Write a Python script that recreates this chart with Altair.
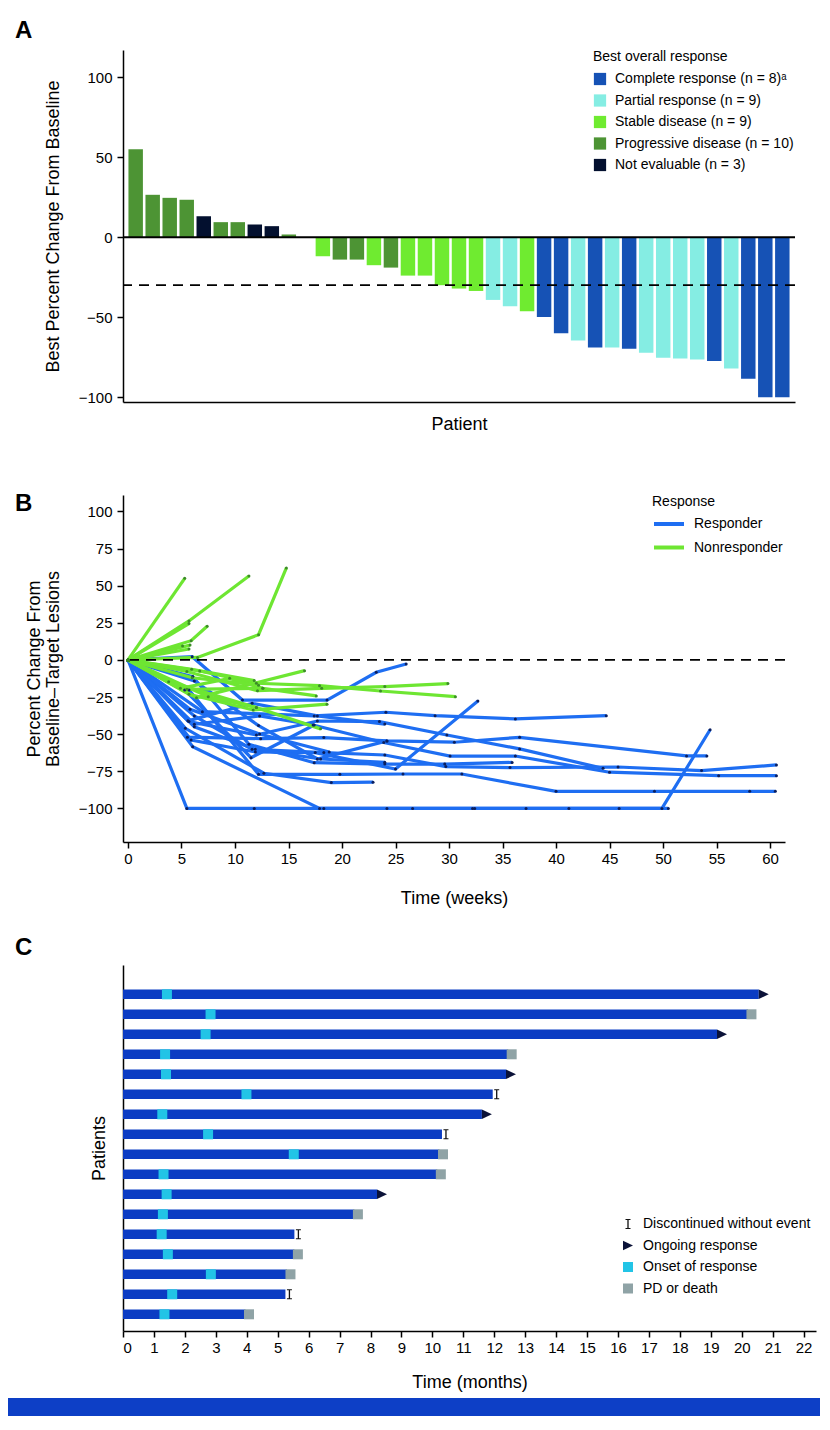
import altair as alt
import pandas as pd

FONT = "Liberation Sans"

# ---------------- Panel A: waterfall ----------------
A_VALUES = [54.9, 26.5, 24.6, 23.4, 13.1, 9.4, 9.4, 7.9, 6.9, 1.7, 0.0, -11.9, -14.0, -14.0,
            -17.5, -19.0, -24.0, -24.0, -30.0, -32.1, -33.6, -39.2, -43.2, -46.3, -49.9, -60.1,
            -64.5, -68.9, -68.9, -69.7, -72.2, -75.3, -75.8, -76.4, -77.4, -82.0, -88.5, -100.0, -100.0]
A_CODES = ["PD", "PD", "PD", "PD", "NE", "PD", "PD", "NE", "NE", "PD", "SD", "SD", "PD", "PD",
           "SD", "PD", "SD", "SD", "SD", "SD", "SD", "PR", "PR", "SD", "CR", "CR",
           "PR", "CR", "PR", "CR", "PR", "PR", "PR", "PR", "CR", "PR", "CR", "CR", "CR"]
A_CODE_ORDER = ["CR", "PR", "SD", "PD", "NE"]
A_LABELS = ["Complete response (n = 8)\u1d43", "Partial response (n = 9)", "Stable disease (n = 9)",
            "Progressive disease (n = 10)", "Not evaluable (n = 3)"]
A_COLORS = ["#1652B5", "#85EDE3", "#6FEB30", "#4D9434", "#03102F"]
A_Y_TICKS = [-100, -50, 0, 50, 100]
A_THRESHOLD = -30

# ---------------- Panel B: spider plot ----------------
R_WEEKS = [
    [0, 5.5, 11.8, 18.3, 24.2, 26.6, 32.2, 37.2, 41.2, 45.9, 49.9, 54.4],
    [0, 6.05, 17.9, 32.4, 50.5],
    [0, 6.0, 10.7, 18.6, 23.2, 26.0],
    [0, 5.9, 11.9, 17.5, 25.0, 32.7],
    [0, 6.95, 17.4, 24.1, 28.7, 36.2, 44.7],
    [0, 5.55, 12.4, 18.3, 24.2, 30.5, 36.6, 52.2, 54.1],
    [0, 5.7, 12.0, 17.7, 23.5, 29.8, 36.6, 44.4],
    [0, 6.2, 11.6, 18.3, 24.0, 29.7, 35.7, 45.8, 53.6, 60.6],
    [0, 5.7, 12.2, 19.8, 25.7, 31.2, 40.0, 49.2, 58.1, 60.5],
    [0, 5.36, 12.7, 19.0, 22.9],
    [0, 6.2, 12.3, 17.3, 23.9, 30.1, 36.2, 45.0, 55.2, 60.6],
    [0, 6.05, 11.3, 17.4, 24.0, 29.6, 35.9],
    [0, 6.2, 12.2, 17.7, 24.2],
    [0, 5.3, 11.5, 17.4],
    [0, 5.8, 12.3, 18.8],
    [0, 6.2, 11.9, 18.0, 24.0],
    [0, 5.6, 11.6, 17.7, 24.0],
]
R_VALUES = [
    [0, -100, -100, -100, -100, -100, -100, -100, -100, -100, -100, -47],
    [0, -58.4, -100, -100, -100],
    [0, 2.2, -27, -27, -8.3, -2.7],
    [0, -53.9, -62, -62.4, -73.4, -27.6],
    [0, -34.8, -37.7, -35.2, -37.5, -39.7, -37.5],
    [0, -52, -53, -52.3, -54.5, -55.4, -52.1, -64.6, -64.6],
    [0, -41.5, -50.5, -41.1, -41.5, -50.5, -59.9, -73],
    [0, -37.7, -60.2, -62.4, -64, -71.8, -72.5, -72.1, -74.5, -70.7],
    [0, -20.2, -77, -77, -76.8, -76.8, -88.5, -88.5, -88.5, -88.5],
    [0, -46, -76.3, -82.6, -82.3],
    [0, -43.3, -37.7, -43.8, -55.6, -64.7, -64.7, -75.6, -77.9, -77.9],
    [0, -11.2, -56.8, -69.2, -70.1, -70.1, -69],
    [0, -14.1, -44.2, -66.7, -54.5],
    [0, -20.2, -65.8, -43.8],
    [0, -33.2, -49.9, -62],
    [0, -45, -60.1, -66.7, -68.9],
    [0, -41, -29.2, -37.7, -43.2],
]
N_WEEKS = [
    [0, 5.3], [0, 5.7, 11.3], [0, 6.5, 12.2, 14.8], [0, 5.7], [0, 5.9, 7.4], [0, 5.1], [0, 5.7],
    [0, 5.8], [0, 6.4, 16.5], [0, 5.5, 12.1, 18.1, 24.0, 29.9], [0, 6.7, 12.0, 17.9, 23.6, 30.6],
    [0, 5.7, 11.7, 18.6], [0, 3.8, 12.0, 18.0], [0, 4.9, 9.5, 12.6, 17.6], [0, 5.95, 11.8],
    [0, 5.5, 12.6], [0, 7.5, 12.0], [0, 6.0, 12.2],
]
N_VALUES = [
    [0, 55], [0, 26.3, 56.5], [0, 1.7, 17, 62], [0, 24.5], [0, 13, 22.7], [0, 9.4], [0, 7.4],
    [0, 10], [0, -25.4, -7.2], [0, -7.8, -20.7, -19.1, -17.9, -15.9], [0, -7.4, -15.7, -17.3, -20.9, -24.7],
    [0, -23.1, -33.7, -29.8], [0, -14.6, -32.1, -46.4], [0, -19.1, -12.4, -19.1, -24.2], [0, -6.3, -13.9],
    [0, -19.8, -19.1], [0, -24.7, -32], [0, -12, -17],
]
B_GROUPS = ["Responder", "Nonresponder"]
B_LINE_COLORS = ["#1E6EF2", "#6EE632"]
B_DOT_COLORS = ["#0B1F5E", "#3C8C28"]
B_Y_TICKS = [-100, -75, -50, -25, 0, 25, 50, 75, 100]
B_X_TICKS = list(range(0, 61, 5))

# ---------------- Panel C: swimmer plot ----------------
C_END = [20.55, 20.2, 19.2, 12.45, 12.38, 11.95, 11.6, 10.31, 10.23, 10.16, 8.21, 7.48, 5.54, 5.54, 5.3, 5.25, 3.96]
C_ONSET = [1.42, 2.83, 2.67, 1.36, 1.39, 3.99, 1.27, 2.75, 5.52, 1.31, 1.41, 1.29, 1.25, 1.45, 2.84, 1.59, 1.34]
C_EVENT = ["ongoing", "pd", "ongoing", "pd", "ongoing", "disc", "ongoing", "disc", "pd", "pd",
           "ongoing", "pd", "disc", "pd", "pd", "disc", "pd"]
C_EV_LABELS = {"disc": "Discontinued without event", "ongoing": "Ongoing response",
               "onset": "Onset of response", "pd": "PD or death"}
C_EV_ORDER = ["Discontinued without event", "Ongoing response", "Onset of response", "PD or death"]
C_EV_COLORS = ["#111111", "#0B1238", "#22C4E6", "#8FA3A6"]
I_PATH = "M-0.5,-1H0.5V-0.8H0.13V0.8H0.5V1H-0.5V0.8H-0.13V-0.8H-0.5Z"
TRI_PATH = "M-1,-0.95L1,0L-1,0.95Z"
C_EV_SHAPES = [I_PATH, TRI_PATH, "square", "square"]
C_EV_SIZES = [100, 100, 42, 42]
C_X_TICKS = list(range(0, 23))

# ======================= build panel A =======================
dfA = pd.DataFrame({
    "patient": list(range(1, len(A_VALUES) + 1)),
    "value": A_VALUES,
    "resp": [A_LABELS[A_CODE_ORDER.index(c)] for c in A_CODES],
})
a_bars = alt.Chart(dfA).mark_bar().encode(
    x=alt.X("patient:O", sort=None,
            scale=alt.Scale(paddingInner=0.15, paddingOuter=0.32),
            axis=alt.Axis(title="Patient", labels=False, ticks=False, titlePadding=13)),
    y=alt.Y("value:Q", scale=alt.Scale(domain=[-103, 117], nice=False, zero=False),
            axis=alt.Axis(values=A_Y_TICKS, title="Best Percent Change From Baseline",
                          titlePadding=16, labelPadding=5)),
    color=alt.Color("resp:N", scale=alt.Scale(domain=A_LABELS, range=A_COLORS),
                    legend=alt.Legend(title="Best overall response", orient="none",
                                      legendX=470, legendY=0, symbolType="square",
                                      symbolSize=150, symbolStrokeWidth=0, rowPadding=7.5,
                                      titlePadding=8, labelOffset=8)),
)
a_zero = alt.Chart(pd.DataFrame({"y": [0]})).mark_rule(color="black", strokeWidth=2).encode(y="y:Q")
a_dash = alt.Chart(pd.DataFrame({"y": [A_THRESHOLD]})).mark_rule(
    color="black", strokeWidth=1.8, strokeDash=[10, 7]).encode(y="y:Q")
a_letter = alt.Chart(pd.DataFrame({"t": ["A"]})).mark_text(
    align="left", baseline="alphabetic", fontSize=24, fontWeight="bold", font=FONT, color="black"
).encode(text="t:N", x=alt.value(-108), y=alt.value(-12))
a_top = alt.Chart(pd.DataFrame({"t": [0]})).mark_rect(opacity=0).encode(
    x=alt.value(0), x2=alt.value(5), y=alt.value(-42), y2=alt.value(-35))
panelA = alt.layer(a_bars, a_zero, a_dash, a_letter, a_top).properties(width=672, height=352)

# ======================= build panel B =======================
rows = []
pid = 0
for weeks, vals in zip(R_WEEKS, R_VALUES):
    pid += 1
    for w, v in zip(weeks, vals):
        rows.append({"pid": pid, "week": w, "value": v, "group": "Responder", "dot": "R"})
for weeks, vals in zip(N_WEEKS, N_VALUES):
    pid += 1
    for w, v in zip(weeks, vals):
        rows.append({"pid": pid, "week": w, "value": v, "group": "Nonresponder", "dot": "N"})
dfB = pd.DataFrame(rows)

bx = alt.X("week:Q", scale=alt.Scale(domain=[-0.467, 61.4], nice=False, zero=False),
           axis=alt.Axis(values=B_X_TICKS, title="Time (weeks)", titlePadding=23, labelPadding=3))
by = alt.Y("value:Q", scale=alt.Scale(domain=[-122.6, 111.1], nice=False, zero=False),
           axis=alt.Axis(values=B_Y_TICKS, title=["Percent Change From", "Baseline\u2013Target Lesions"],
                         titlePadding=16, labelPadding=5, titleLineHeight=19))
b_lines = alt.Chart(dfB).mark_line(strokeWidth=3.2).encode(
    x=bx, y=by, detail="pid:N", order="week:Q",
    color=alt.Color("group:N", scale=alt.Scale(domain=B_GROUPS, range=B_LINE_COLORS),
                    legend=alt.Legend(title="Response", orient="none", legendX=529, legendY=0,
                                      symbolType="M-3,0H3", symbolSize=100, symbolStrokeWidth=4,
                                      symbolOffset=10, rowPadding=7.5, titlePadding=8, labelOffset=18)),
)
b_dots = alt.Chart(dfB).mark_circle(size=9, opacity=1).encode(
    x=bx, y=by,
    color=alt.Color("dot:N", scale=alt.Scale(domain=["R", "N"], range=B_DOT_COLORS), legend=None),
)
b_dash = alt.Chart(pd.DataFrame({"y": [0]})).mark_rule(
    color="black", strokeWidth=1.8, strokeDash=[10, 7]).encode(y="y:Q")
b_letter = alt.Chart(pd.DataFrame({"t": ["B"]})).mark_text(
    align="left", baseline="alphabetic", fontSize=24, fontWeight="bold", font=FONT, color="black"
).encode(text="t:N", x=alt.value(-108), y=alt.value(16))
panelB = alt.layer(b_lines, b_dash, b_dots, b_letter).resolve_scale(color="independent").properties(
    width=662, height=347)

# ======================= build panel C =======================
n = len(C_END)
dfC = pd.DataFrame({"row": list(range(1, n + 1)), "start": [0] * n, "end": C_END,
                    "onset": C_ONSET, "ev": [C_EV_LABELS[e] for e in C_EVENT]})
dfOnset = pd.DataFrame({"row": list(range(1, n + 1)), "x": C_ONSET, "ev": ["Onset of response"] * n})

cx_scale = alt.Scale(domain=[0, 22.4], nice=False, zero=False)
c_xaxis = alt.Axis(values=C_X_TICKS, title="Time (months)", titlePadding=18, labelPadding=3,
                   labelOverlap=False)
cy = alt.Y("row:Q", scale=alt.Scale(domain=[-0.465, 17.835], nice=False, zero=False, reverse=True),
           axis=alt.Axis(title="Patients", labels=False, ticks=False, grid=False, titlePadding=15))
ev_color = alt.Color("ev:N", scale=alt.Scale(domain=C_EV_ORDER, range=C_EV_COLORS),
                     legend=alt.Legend(title=None, orient="none", legendX=498, legendY=252,
                                       rowPadding=7.5, labelOffset=8, symbolStrokeWidth=0))
ev_shape = alt.Shape("ev:N", scale=alt.Scale(domain=C_EV_ORDER, range=C_EV_SHAPES))
ev_size = alt.Size("ev:N", scale=alt.Scale(domain=C_EV_ORDER, range=C_EV_SIZES))

c_bars = alt.Chart(dfC).mark_rule(strokeWidth=9.5, strokeCap="butt", color="#0B3CC3").encode(
    x=alt.X("start:Q", scale=cx_scale, axis=c_xaxis),
    x2="end:Q", y=cy)


def ev_layer(data, field, offset, filt=None):
    ch = alt.Chart(data)
    if filt is not None:
        ch = ch.transform_filter(alt.datum.ev == filt)
    return ch.mark_point(filled=True, opacity=1, strokeWidth=0, xOffset=offset).encode(
        x=alt.X(field + ":Q", scale=cx_scale, axis=c_xaxis), y=cy,
        color=ev_color, shape=ev_shape, size=ev_size)


c_pd = ev_layer(dfC, "end", 3.5, "PD or death")
c_ong = ev_layer(dfC, "end", 5, "Ongoing response")
c_disc = ev_layer(dfC, "end", 4, "Discontinued without event")
c_on = ev_layer(dfOnset, "x", 0)
c_letter = alt.Chart(pd.DataFrame({"t": ["C"]})).mark_text(
    align="left", baseline="alphabetic", fontSize=24, fontWeight="bold", font=FONT, color="black"
).encode(text="t:N", x=alt.value(-108), y=alt.value(-10))
c_band = alt.Chart(pd.DataFrame({"t": [0]})).mark_rect(color="#0D3FC6").encode(
    x=alt.value(-115), x2=alt.value(697), y=alt.value(433), y2=alt.value(451))
panelC = alt.layer(c_bars, c_pd, c_ong, c_disc, c_on, c_letter, c_band).properties(width=693, height=366)


def spacer(h):
    return alt.Chart(pd.DataFrame({"a": [0]})).mark_point(opacity=0).encode(
        x=alt.value(0), y=alt.value(0)).properties(width=10, height=h)


chart = alt.vconcat(panelA, spacer(93), panelB, spacer(123), panelC, spacing=0, bounds="flush").resolve_scale(
    color="independent", shape="independent", size="independent"
).resolve_legend(color="independent", shape="independent", size="independent").properties(
    padding={"left": 0, "top": 0, "right": 0, "bottom": 0}
).configure(font=FONT).configure_view(stroke=None).configure_axis(
    labelFont=FONT, titleFont=FONT, labelFontSize=15, titleFontSize=18, titleFontWeight="normal",
    labelColor="black", titleColor="black", domainColor="black", tickColor="black",
    domainWidth=1.5, tickWidth=1.5, tickSize=6, grid=False
).configure_legend(
    labelFont=FONT, titleFont=FONT, labelFontSize=14, titleFontSize=14, titleFontWeight="normal",
    labelColor="black", titleColor="black", labelLimit=400
)

chart.save("out.html", embed_options={"renderer": "svg", "actions": False})
